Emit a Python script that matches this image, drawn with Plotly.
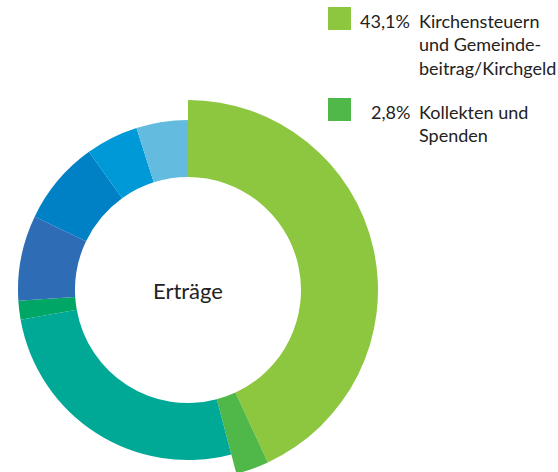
import numpy as np
import plotly.graph_objects as go

# ---- data ----
labels = [
    "Kirchensteuern und Gemeindebeitrag/Kirchgeld",
    "Kollekten und Spenden",
    "Segment 3",
    "Segment 4",
    "Segment 5",
    "Segment 6",
    "Segment 7",
    "Segment 8",
]
shares = [43.1, 2.8, 26.3, 1.8, 8.1, 8.0, 5.0, 4.9]
highlighted = [True, True, False, False, False, False, False, False]
legend_labels = ["Kirchensteuern<br>und Gemeinde-<br>beitrag/Kirchgeld", "Kollekten und<br>Spenden"]
center_label = "Erträge"

colors = ["#8dc63f", "#50b848", "#00a896", "#00a665", "#2e6cb5", "#0081c6", "#0099d8", "#63bbe0"]

W, H = 558, 472
CX, CY = 188, 290
R_IN, R_OUT, R_BIG = 113, 170, 190

shares_arr = np.array(shares, dtype=float)
widths = shares_arr / shares_arr.sum() * 360.0
starts = np.concatenate([[0.0], np.cumsum(widths)[:-1]])
thetas = starts + widths / 2
radii = [(R_BIG - R_IN) if h else (R_OUT - R_IN) for h in highlighted]

FONT = "Lato, 'Open Sans', sans-serif"

fig = go.Figure()
fig.add_trace(go.Barpolar(
    r=radii, theta=thetas, width=widths,
    marker=dict(color=colors, line=dict(width=0)),
    text=labels, customdata=shares,
    hovertemplate="%{text}: %{customdata}%<extra></extra>",
    showlegend=False,
))
# invisible helper trace: turns off polar clipping of the plot layer
fig.add_trace(go.Scatterpolar(r=[0], theta=[0], mode="markers", marker=dict(opacity=0, size=1),
                              cliponaxis=False, hoverinfo="skip", showlegend=False))

fig.update_layout(
    width=W, height=H,
    margin=dict(l=0, r=0, t=0, b=0),
    paper_bgcolor="white",
    font=dict(family=FONT, color="#222222"),
    polar=dict(
        domain=dict(x=[(CX - R_OUT) / W, (CX + R_OUT) / W],
                    y=[(H - CY - R_OUT) / H, (H - CY + R_OUT) / H]),
        hole=R_IN / R_OUT,
        bgcolor="rgba(0,0,0,0)",
        radialaxis=dict(range=[0, R_OUT - R_IN], visible=False, showgrid=False),
        angularaxis=dict(rotation=90, direction="clockwise", visible=False, showgrid=False),
        bargap=0,
    ),
    showlegend=False,
)

# center label
fig.add_annotation(x=CX / W, y=1 - CY / H, xref="paper", yref="paper",
                   text=center_label, showarrow=False, font=dict(size=22),
                   xanchor="center", yanchor="middle")

# custom legend for highlighted slices
legend_tops = [7, 98]
for i, top in enumerate(legend_tops):
    fig.add_shape(type="rect", xref="paper", yref="paper",
                  x0=328 / W, x1=351 / W, y0=1 - top / H, y1=1 - (top + 23) / H,
                  fillcolor=colors[i], line=dict(width=0))
    pct = f"{shares[i]:.1f}".replace(".", ",") + "%"
    fig.add_annotation(x=412 / W, y=1 - (top + 1) / H, xref="paper", yref="paper",
                       text=pct, showarrow=False, font=dict(size=18),
                       xanchor="right", yanchor="top", align="right")
    fig.add_annotation(x=417 / W, y=1 - (top + 1) / H, xref="paper", yref="paper",
                       text=legend_labels[i], showarrow=False, font=dict(size=18),
                       xanchor="left", yanchor="top", align="left")

# page without body margin; let the highlighted slices extend past the polar frame
post = """
document.body.style.margin='0';
function unclip(){
  document.querySelectorAll('g.polarlayer [clip-path], g.polarlayer g.trace.bars').forEach(function(e){
    e.removeAttribute('clip-path'); e.style.clipPath='none';
  });
}
unclip();
setTimeout(unclip, 0);
setTimeout(unclip, 200);
"""
fig.write_html("out.html", post_script=post, config={"displayModeBar": False})
